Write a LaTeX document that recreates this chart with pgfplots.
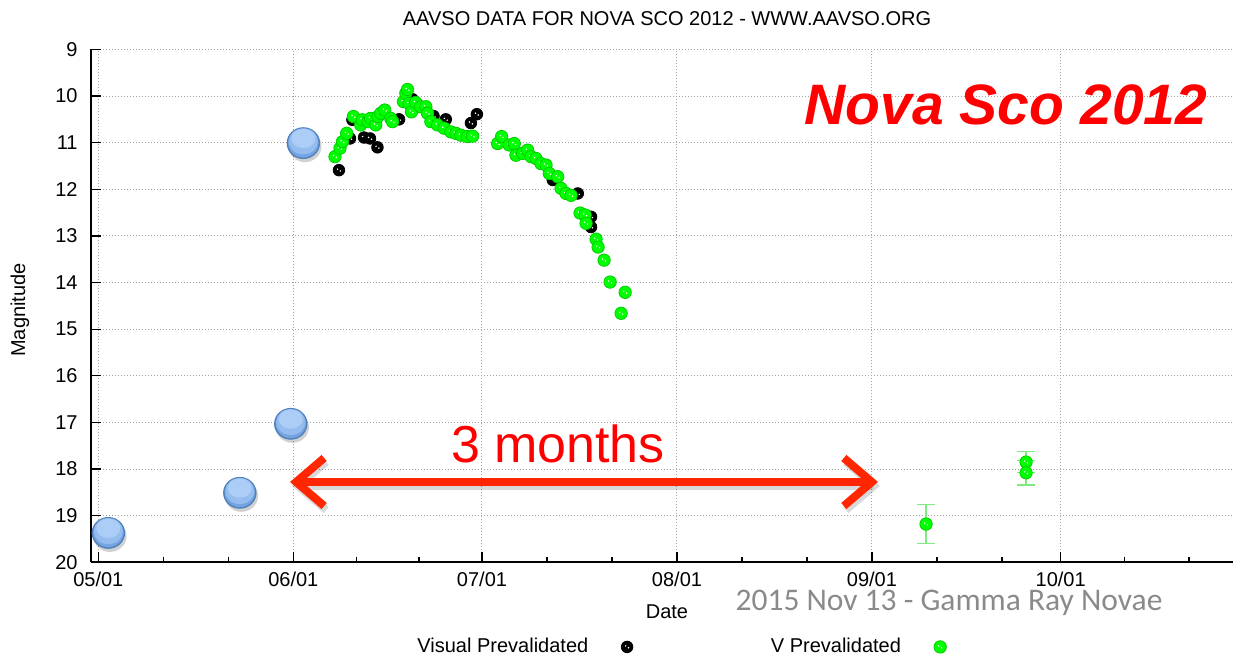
\documentclass[border=0pt]{standalone}
\usepackage{pgfplots}
\pgfplotsset{compat=1.18}
\usepackage{fontspec}
\setmainfont{Liberation Sans}
\newfontfamily\carl{Carlito}
\usetikzlibrary{arrows.meta}
\definecolor{vgreen}{RGB}{0,255,0}
\definecolor{vgreenedge}{RGB}{0,205,0}
\definecolor{errgreen}{RGB}{125,235,125}
\definecolor{blueTop}{RGB}{172,205,245}
\definecolor{blueMid}{RGB}{148,188,238}
\definecolor{blueBot}{RGB}{118,164,224}
\definecolor{blueEdge}{RGB}{79,129,189}
\definecolor{arrowred}{RGB}{255,38,0}
\definecolor{wm}{RGB}{138,138,138}
\definecolor{gridgray}{RGB}{165,165,165}

\pgfdeclareplotmark{speck}{%
  \pgfpathcircle{\pgfpointorigin}{\pgfplotmarksize}\pgfusepathqfillstroke
  \pgfscope
  \pgfsetfillcolor{white}%
  \pgfpathcircle{\pgfpoint{-0.7bp}{0.5bp}}{0.42bp}%
  \pgfpathcircle{\pgfpoint{0.7bp}{-0.4bp}}{0.42bp}%
  \pgfusepathqfill
  \endpgfscope}
\pgfdeclareplotmark{bluedot}{%
  \pgfscope
  \pgfsetfillcolor{black}\pgfsetfillopacity{0.18}%
  \pgfpathellipse{\pgfpoint{0.8bp}{-1.6bp}}{\pgfpoint{8.3bp}{0bp}}{\pgfpoint{0bp}{7.9bp}}%
  \pgfusepathqfill
  \endpgfscope
  \pgfscope
  \pgfsetfillcolor{blueBot}\pgfsetstrokecolor{blueEdge}\pgfsetlinewidth{0.7bp}%
  \pgfpathellipse{\pgfpointorigin}{\pgfpoint{8bp}{0bp}}{\pgfpoint{0bp}{7.6bp}}%
  \pgfusepathqfillstroke
  \endpgfscope
  \pgfscope
  \pgfsetfillcolor{blueMid}%
  \pgfpathellipse{\pgfpoint{0bp}{0.9bp}}{\pgfpoint{7.3bp}{0bp}}{\pgfpoint{0bp}{6.5bp}}%
  \pgfusepathqfill
  \endpgfscope
  \pgfscope
  \pgfsetfillcolor{blueTop}%
  \pgfpathellipse{\pgfpoint{0bp}{2.3bp}}{\pgfpoint{6.0bp}{0bp}}{\pgfpoint{0bp}{4.8bp}}%
  \pgfusepathqfill
  \endpgfscope}

\newcommand{\gpfont}{\fontsize{10bp}{12bp}\selectfont}

\begin{document}
\begin{tikzpicture}
\path[use as bounding box] (0,0) rectangle (617bp,330bp);
\begin{axis}[
  at={(45.5bp,48.85bp)}, anchor=south west,
  scale only axis, width=571bp, height=256.45bp,
  clip=false,
  xmin=-1.16, xmax=180.4, ymin=-20, ymax=-9,
  y filter/.expression={-y},
  axis x line=bottom, axis y line=left,
  axis line style={-, line width=0.9bp, black},
  xtick={0,31,61,92,123,153},
  xticklabels={05/01,06/01,07/01,08/01,09/01,10/01},
  minor xtick={10.33,20.67,41,51,71.33,81.67,102.33,112.67,133.33,143.67,163.2,173.4},
  ytick={-20,-19,-18,-17,-16,-15,-14,-13,-12,-11,-10,-9},
  yticklabels={20,19,18,17,16,15,14,13,12,11,10,9},
  tick align=inside,
  major tick length=5bp, minor tick length=2.5bp,
  tick style={black, line width=0.6bp},
  grid=major,
  major grid style={gridgray, line width=0.5bp, dash pattern=on 0.5bp off 1bp},
  ticklabel style={font=\gpfont},
  xticklabel style={inner sep=0pt, yshift=-4.5bp},
  yticklabel style={inner sep=0pt, xshift=-6.5bp},
  legend columns=2,
  legend plot pos=right,
  legend style={draw=none, fill=none, font=\gpfont, at={(0.2855,-0.165)}, anchor=west,
    inner sep=0pt, nodes={inner sep=0pt},
    /tikz/every odd column/.style={column sep=16.5bp},
    /tikz/every even column/.style={column sep=69bp}},
]
\addplot[only marks, mark=speck, mark size=2.9bp, mark options={fill=black, draw=black}] coordinates {
(38.26,11.59) (40.02,10.91) (40.40,10.51) (42.25,10.89) (43.20,10.91) (44.38,11.10)
(47.82,10.50) (49.95,10.07) (53.30,10.43) (55.25,10.50) (59.24,10.58) (60.19,10.39)
(72.25,11.80) (76.23,12.09) (78.34,12.59) (78.34,12.81)
};
\addlegendentry{Visual Prevalidated}
\addplot[only marks, mark=speck, mark size=3.1bp, mark options={fill=vgreen, draw=vgreenedge, line width=0.4bp}] coordinates {
(37.63,11.30) (38.42,11.12) (38.81,10.98) (39.49,10.80) (40.56,10.44) (41.72,10.62)
(41.99,10.51) (42.88,10.55) (43.31,10.48) (44.11,10.62) (44.47,10.44) (44.90,10.37)
(45.54,10.30) (46.50,10.48) (46.77,10.55) (48.52,10.12) (48.89,9.94) (49.16,9.86)
(49.41,10.16) (49.79,10.34) (50.48,10.14) (51.27,10.23) (52.07,10.23) (52.34,10.37)
(52.87,10.55) (53.93,10.62) (54.98,10.69) (56.05,10.77) (56.85,10.80) (57.64,10.84)
(58.71,10.87) (59.51,10.86) (63.49,11.02) (64.12,10.87) (65.33,11.05) (66.13,11.02)
(66.40,11.27) (67.47,11.23) (68.26,11.16) (68.79,11.30) (69.59,11.34) (70.38,11.45)
(71.18,11.48) (71.70,11.66) (73.04,11.73) (73.57,11.98) (74.36,12.09) (75.16,12.13)
(76.59,12.51) (77.39,12.55) (77.55,12.73) (79.14,13.07) (79.46,13.24) (80.41,13.52)
(81.37,13.99) (83.76,14.21) (83.12,14.66)
};
\addlegendentry{V Prevalidated}
\addplot[forget plot, only marks, mark=speck, mark size=3.1bp,
  mark options={fill=vgreen, draw=vgreenedge, line width=0.4bp},
  error bars/.cd, y dir=both, y explicit,
  error bar style={errgreen, line width=0.7bp},
  error mark options={rotate=90, errgreen, mark size=4.5bp, line width=0.7bp}]
  coordinates {(131.6,19.18) +- (0,0.42) (147.5,17.85) +- (0,0.22) (147.5,18.08) +- (0,0.26)};
\addplot[forget plot, only marks, mark=bluedot] coordinates {
(1.6,19.37) (22.5,18.51) (30.6,17.03) (32.6,11.01)
};
\end{axis}
\begin{scope}[x=0.5bp, y=-0.5bp, yshift=330bp]
\node[font=\gpfont] at (667,19) {AAVSO DATA FOR NOVA SCO 2012 - WWW.AAVSO.ORG};
\node[rotate=90, font=\gpfont] at (20,310) {Magnitude};
\node[font=\gpfont] at (667,612) {Date};
\node[anchor=base, text=red, font=\fontsize{28.5bp}{32bp}\selectfont\bfseries\itshape] at (1006,125) {Nova Sco 2012};
\node[anchor=base, text=red, font=\fontsize{26bp}{30bp}\selectfont] at (558,463) {3 months};
\node[anchor=base, text=wm, font=\carl\fontsize{15.75bp}{18bp}\selectfont] at (949,611) {2015 Nov 13 - Gamma Ray Novae};
\draw[black, opacity=0.15, line width=4bp, line cap=round, line join=round,
  {Straight Barb[length=14bp,width=24bp]}-{Straight Barb[length=14bp,width=24bp]}] (292,486) -- (880,486);
\draw[arrowred, line width=4bp, line cap=round, line join=round,
  {Straight Barb[length=14bp,width=24bp]}-{Straight Barb[length=14bp,width=24bp]}] (290,482) -- (878,482);
\end{scope}
\end{tikzpicture}
\end{document}
